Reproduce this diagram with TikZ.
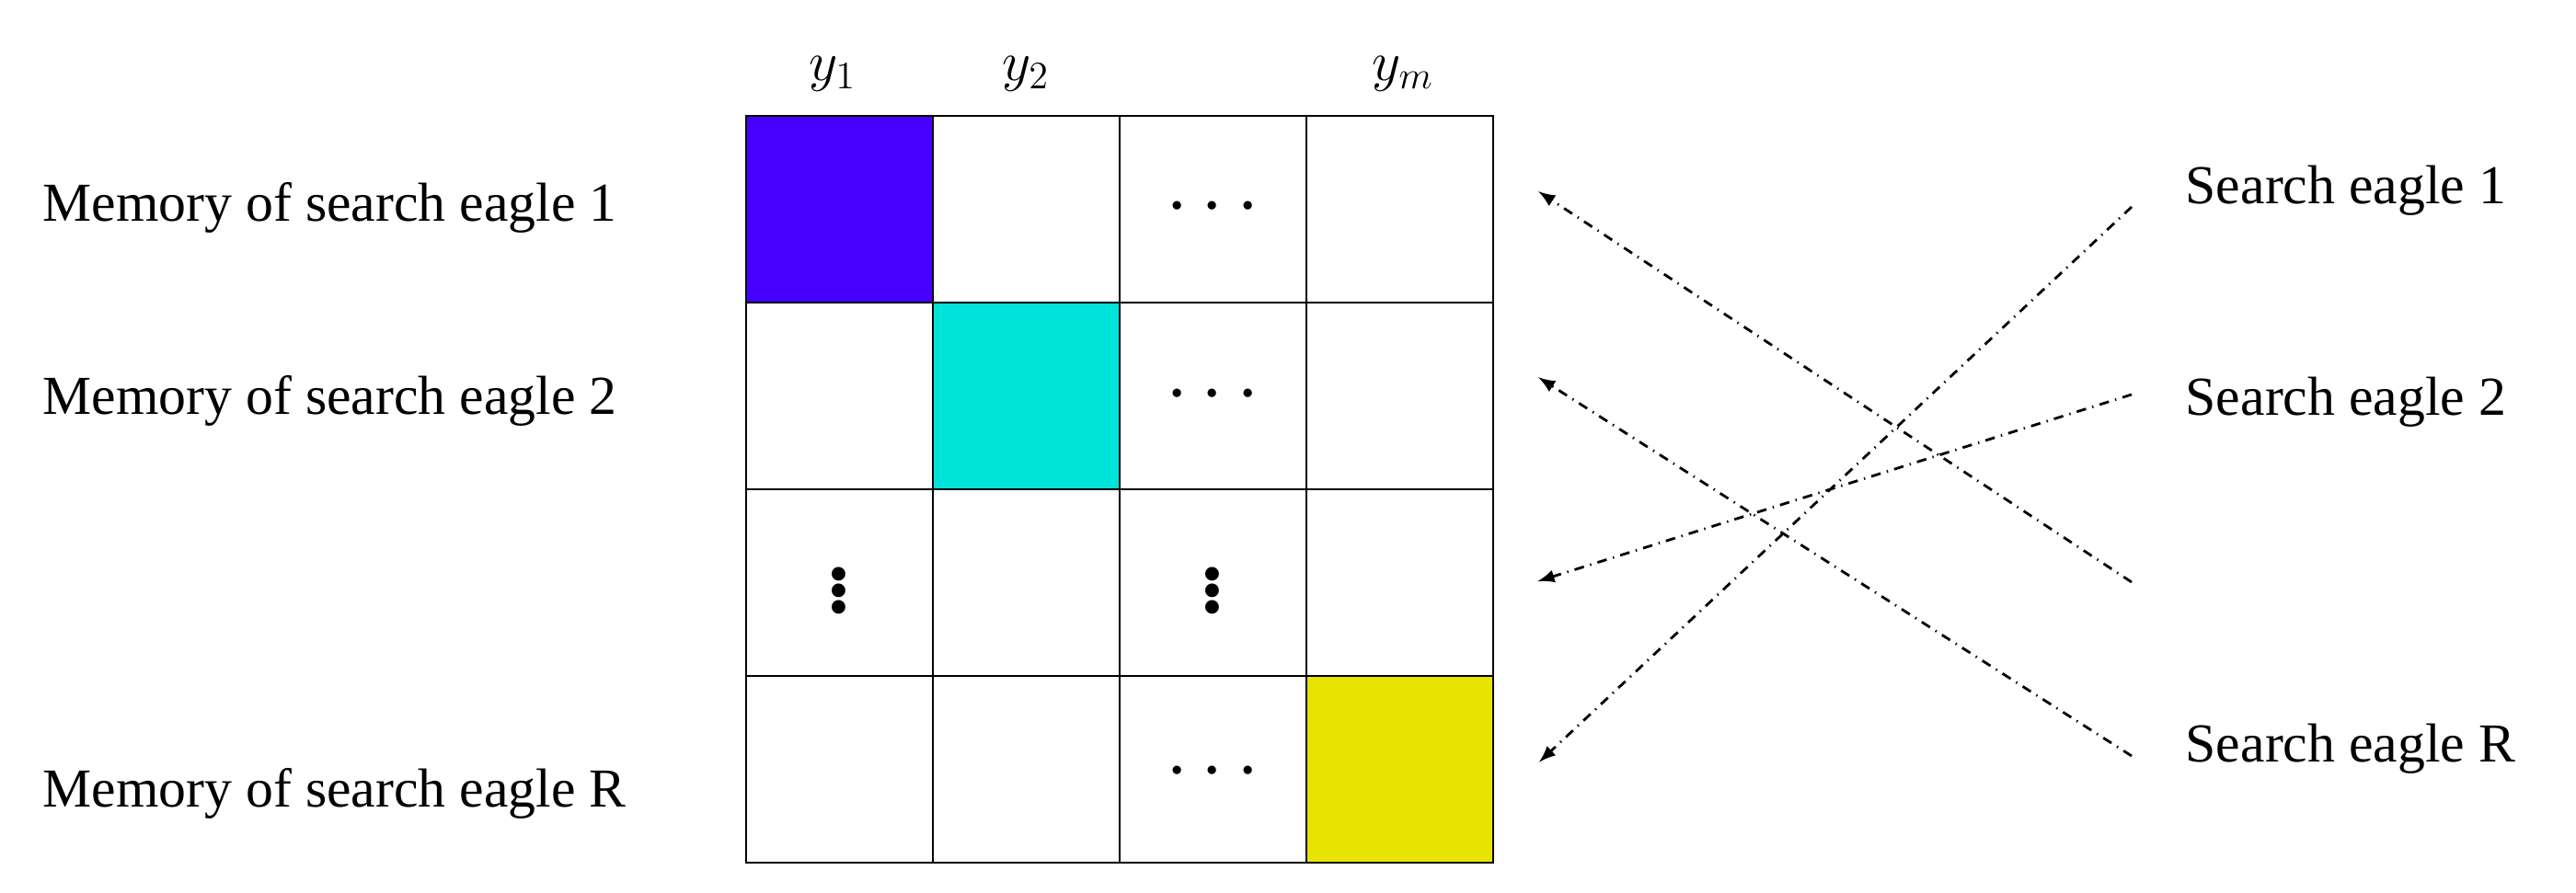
\documentclass[tikz,border=0pt]{standalone}
\usepackage{fontspec}
\setmainfont{Liberation Serif}
\usetikzlibrary{positioning}
\definecolor{eaglblue}{rgb}{0.28,0.0,1.0}
\definecolor{eaglcyan}{rgb}{0.0,0.89,0.86}
\definecolor{eaglyellow}{rgb}{0.91,0.89,0.0}

\begin{document}
\begin{tikzpicture}[>=latex, x=1cm, y=1cm,
  lbl/.style={font=\fontsize{17}{20}\selectfont, inner sep=0pt},
  dots/.style={font=\fontsize{26}{30}\selectfont\bfseries, inner sep=0pt},
  link/.style={->, dash dot, line width=0.8pt, shorten >=-2pt}]

			\useasboundingbox (0,0) rectangle (28,-9.71);
			
			\fill[eaglblue] (8.11,-1.26) rectangle (10.14,-3.29);
			\fill[eaglcyan] (10.14,-3.29) rectangle (12.17,-5.32);
			\fill[eaglyellow] (14.20,-7.35) rectangle (16.23,-9.38);
			\foreach \i in {1,2,3}{
				\draw[line width=0.8pt] (8.11+2.03*\i,-1.26) -- (8.11+2.03*\i,-9.38);
				\draw[line width=0.8pt] (8.11,-1.26-2.03*\i) -- (16.23,-1.26-2.03*\i);
			}
			\draw[line width=0.8pt] (8.11,-1.26) rectangle (16.23,-9.38);
			
			\node[lbl] (y1) at (9.05,-0.80) {$y_1$};
			\node[lbl] (y2) at (11.15,-0.80) {$y_2$};
			\node[lbl] (ym) at (15.25,-0.80) {$y_m$};
			
			\node[dots] (d1) at (13.18,-2.26) {$\cdots$};
			\node[dots] (d2) at (13.18,-4.30) {$\cdots$};
			\node[dots] (d4) at (13.18,-8.40) {$\cdots$};
			\node[dots] (v1) at (9.12,-6.32) {$\vdots$};
			\node[dots] (v3) at (13.18,-6.32) {$\vdots$};
			
			\node[lbl, anchor=west] (mem1) at (0.46,-2.26) {Memory of search eagle 1};
			\node[lbl, anchor=west] (mem2) at (0.46,-4.36) {Memory of search eagle 2};
			\node[lbl, anchor=west] (memR) at (0.46,-8.63) {Memory of search eagle R};
			
			\node[lbl, anchor=west] (se1) at (23.75,-2.07) {Search eagle 1};
			\node[lbl, anchor=west] (se2) at (23.75,-4.37) {Search eagle 2};
			\node[lbl, anchor=west] (seR) at (23.75,-8.14) {Search eagle R};
			
			% arrow ends beside the table
			\coordinate (s1) at (23.17,-2.25);
			\coordinate (s2) at (23.17,-4.29);
			\coordinate (s3) at (23.17,-6.33);
			\coordinate (sR) at (23.17,-8.22);
			\coordinate (t1) at (16.78,-2.12);
			\coordinate (t2) at (16.78,-4.14);
			\coordinate (t3) at (16.78,-6.30);
			\coordinate (tR) at (16.78,-8.24);
			
			\draw[link] (s1) -- (tR);
			\draw[link] (s2) -- (t3);
			\draw[link] (s3) -- (t1);
			\draw[link] (sR) -- (t2);
		\end{tikzpicture}
\end{document}
